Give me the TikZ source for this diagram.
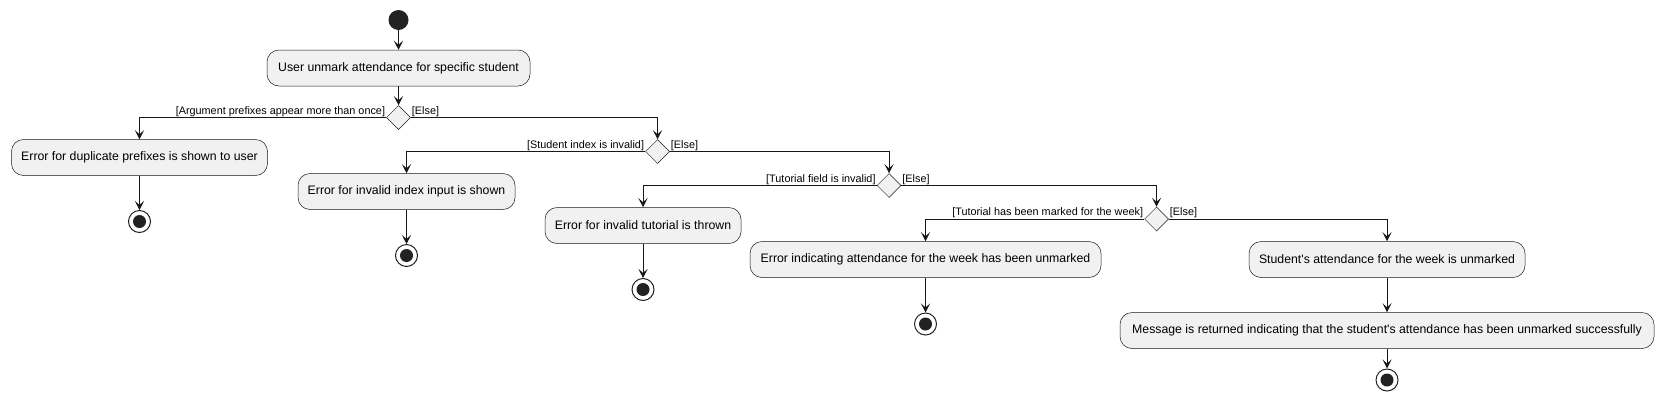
\documentclass[tikz,border=0pt]{standalone}
\usepackage{fontspec}
\setmainfont{Liberation Sans}
\usetikzlibrary{arrows.meta,shapes.geometric}
\definecolor{boxfill}{HTML}{F1F1F1}
\definecolor{edge}{HTML}{181818}
\definecolor{dot}{HTML}{222222}
\tikzset{
	action/.style={rectangle, rounded corners=12pt, draw=edge, fill=boxfill, line width=0.5pt, minimum height=36pt, inner sep=2pt, font=\fontsize{12.3}{14}\selectfont},
	branch/.style={diamond, draw=edge, fill=boxfill, line width=0.5pt, minimum width=24pt, minimum height=24pt, inner sep=0pt},
	begin/.style={circle, fill=dot, minimum size=20pt, inner sep=0pt},
	finish/.style={circle, draw=dot, line width=1pt, fill=white, minimum size=22pt, inner sep=0pt, path picture={\fill[dot] (path picture bounding box.center) circle (6.5pt);}},
	guard/.style={inner sep=1pt, font=\fontsize{10.85}{12}\selectfont},
	flow/.style={draw=edge, line width=1pt, -{Stealth[length=9pt,width=9pt,inset=4pt]}}
}

\begin{document}
\begin{tikzpicture}[x=1pt, y=-1pt]
		%%%%% START %%%%%
		\useasboundingbox (0, 0) rectangle (1664, 400);
		
		\node[begin] (start) at (398.5, 20) {};
		\node[action, minimum width=263pt] (act1) at (398.5, 68) {User unmark attendance for specific student};
		\node[branch] (d1) at (398.5, 117.5) {};
		
		\node[action, minimum width=256pt] (act2) at (139.5, 157.5) {Error for duplicate prefixes is shown to user};
		\node[finish] (end2) at (139.5, 221.5) {};
		
		\node[branch] (d2) at (657.5, 151.5) {};
		\node[action, minimum width=217pt] (act3) at (406.5, 191.5) {Error for invalid index input is shown};
		\node[finish] (end3) at (406.5, 255.5) {};
		
		\node[branch] (d3) at (889, 185.5) {};
		\node[action, minimum width=196pt] (act4) at (643, 225.5) {Error for invalid tutorial is thrown};
		\node[finish] (end4) at (643, 289.5) {};
		
		\node[branch] (d4) at (1156.5, 219) {};
		\node[action, minimum width=351pt] (act5) at (925.5, 259.5) {Error indicating attendance for the week has been unmarked};
		\node[finish] (end5) at (925.5, 324) {};
		
		\node[action, minimum width=276pt] (act6) at (1387, 259.5) {Student\textquotesingle s attendance for the week is unmarked};
		\node[action, minimum width=534pt] (act7) at (1387, 330.5) {Message is returned indicating that the student\textquotesingle s attendance has been unmarked successfully};
		\node[finish] (end7) at (1387, 380) {};
		
		% guards
		\node[guard, anchor=south east] (g1) at (d1.west) {[Argument prefixes appear more than once]};
		\node[guard, anchor=south west] (e1) at (d1.east) {[Else]};
		\node[guard, anchor=south east] (g2) at (d2.west) {[Student index is invalid]};
		\node[guard, anchor=south west] (e2) at (d2.east) {[Else]};
		\node[guard, anchor=south east] (g3) at (d3.west) {[Tutorial field is invalid]};
		\node[guard, anchor=south west] (e3) at (d3.east) {[Else]};
		\node[guard, anchor=south east] (g4) at (d4.west) {[Tutorial has been marked for the week]};
		\node[guard, anchor=south west] (e4) at (d4.east) {[Else]};
		
		% flows
		\draw[flow] (start) -- (act1);
		\draw[flow] (act1) -- (d1);
		\draw[flow] (d1.west) -| (act2);
		\draw[flow] (act2) -- (end2);
		\draw[flow] (d1.east) -| (d2);
		\draw[flow] (d2.west) -| (act3);
		\draw[flow] (act3) -- (end3);
		\draw[flow] (d2.east) -| (d3);
		\draw[flow] (d3.west) -| (act4);
		\draw[flow] (act4) -- (end4);
		\draw[flow] (d3.east) -| (d4);
		\draw[flow] (d4.west) -| (act5);
		\draw[flow] (act5) -- (end5);
		\draw[flow] (d4.east) -| (act6);
		\draw[flow] (act6) -- (act7);
		\draw[flow] (act7) -- (end7);
		
		%%%%% END %%%%%
\end{tikzpicture}
\end{document}
